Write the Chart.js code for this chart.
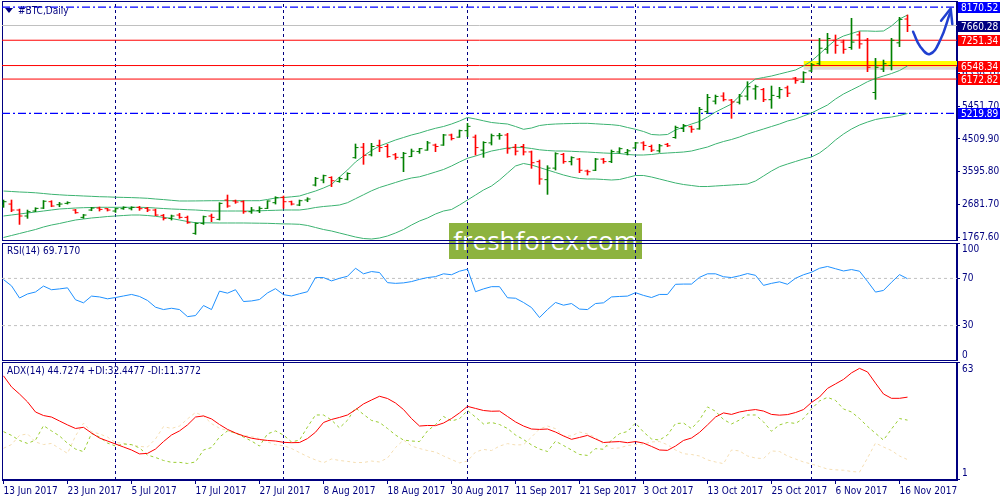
<!DOCTYPE html>
<html>
<head>
<meta charset="utf-8">
<script src="https://cdn.jsdelivr.net/npm/chart.js@4.4.0/dist/chart.umd.min.js"></script>
<style>
  body { margin: 0; background: #fff; width: 1000px; height: 500px; overflow: hidden; position: relative; }
  canvas { position: absolute; left: 0; z-index: 1; }
  .lbl { position: absolute; z-index: 2; color: #000080; font: 10px "DejaVu Sans Condensed", "Liberation Sans", Arial, sans-serif; line-height: 12px; white-space: nowrap; }
  .tri { display: inline-block; width: 0; height: 0; border-left: 4px solid transparent; border-right: 4px solid transparent; border-top: 5px solid #000080; margin-right: 5px; vertical-align: 1px; }
  #wm { position: absolute; z-index: 0; left: 449px; top: 223px; width: 193px; height: 36px; background: #8db33f; color: #fff;
        font: 26px "Open Sans", sans-serif; line-height: 35px; text-align: center; }
</style>
</head>
<body>
<div id="wm">freshforex.com</div>
<canvas id="cMain" width="1000" height="241" style="top:0px"></canvas>
<canvas id="cRsi" width="1000" height="119" style="top:242px"></canvas>
<canvas id="cAdx" width="1000" height="139" style="top:361px"></canvas>
<div class="lbl" style="left:5px;top:5px"><span class="tri"></span>#BTC,Daily</div>
<div class="lbl" style="left:7px;top:245px">RSI(14) 69.7170</div>
<div class="lbl" style="left:7px;top:365px">ADX(14) 44.7274 +DI:32.4477 -DI:11.3772</div>
<script>
// x axis labels, one every 8 daily bars (13 Jun - 17 Nov 2017, weekdays)
const tickDates = ['13 Jun 2017', '23 Jun 2017', '5 Jul 2017', '17 Jul 2017', '27 Jul 2017', '8 Aug 2017', '18 Aug 2017',
  '30 Aug 2017', '11 Sep 2017', '21 Sep 2017', '3 Oct 2017', '13 Oct 2017', '25 Oct 2017', '6 Nov 2017', '16 Nov 2017'];
const monthStarts = [14, 35, 58, 79, 101];

// daily OHLC
const openP = [2650, 2702, 2536, 2370, 2508, 2590, 2767, 2684, 2721, 2536,
  2332, 2536, 2591, 2573, 2508, 2573, 2573, 2610, 2582, 2536,
  2388, 2305, 2397, 2332, 1888, 2165, 2370, 2277, 2814, 2786,
  2767, 2490, 2517, 2582, 2740, 2888, 2767, 2675, 2814, 3230,
  3369, 3440, 3330, 3390, 3990, 4280, 4070, 4330, 4300, 4070,
  3990, 4020, 4160, 4200, 4340, 4340, 4620, 4560, 4740, 4560,
  4200, 4400, 4600, 4620, 4280, 4300, 4150, 3880, 3380, 3700,
  4080, 3880, 3950, 3620, 3640, 3950, 3880, 4150, 4130, 4260,
  4400, 4300, 4180, 4360, 4550, 4800, 4850, 4790, 5270, 5560,
  5700, 5590, 5530, 5700, 5900, 5880, 5600, 5690, 5930, 6200,
  6090, 6400, 6600, 7000, 7250, 7200, 7050, 7400, 7250, 5800,
  6450, 6550, 7180, 7840];
const highP = [2814, 2814, 2563, 2536, 2600, 2800, 2795, 2749, 2767, 2554,
  2415, 2610, 2619, 2582, 2591, 2628, 2628, 2638, 2610, 2563,
  2415, 2397, 2443, 2370, 2184, 2370, 2425, 2740, 2953, 2814,
  2795, 2610, 2628, 2795, 2906, 2925, 2786, 2814, 2878, 3444,
  3508, 3462, 3444, 3573, 4370, 4388, 4388, 4480, 4360, 4110,
  4138, 4230, 4249, 4444, 4370, 4638, 4647, 4758, 4943, 4620,
  4435, 4647, 4666, 4666, 4360, 4360, 4175, 3925, 3768, 4129,
  4110, 4018, 3971, 3647, 3971, 3971, 4203, 4268, 4221, 4416,
  4435, 4342, 4360, 4388, 4869, 4916, 4870, 5388, 5749, 5730,
  5795, 5610, 5749, 6100, 6008, 5915, 5980, 5943, 5980, 6221,
  6378, 6610, 7304, 7443, 7397, 7258, 7860, 7490, 7304, 6748,
  6702, 7304, 7887, 7952];
const lowP = [2610, 2490, 2137, 2305, 2490, 2575, 2628, 2628, 2702, 2443,
  2305, 2517, 2508, 2508, 2471, 2554, 2536, 2526, 2490, 2378,
  2258, 2258, 2305, 2165, 1860, 2137, 2212, 2258, 2610, 2721,
  2443, 2443, 2462, 2575, 2702, 2582, 2675, 2656, 2767, 3203,
  3290, 3185, 3305, 3370, 3971, 3805, 4036, 4157, 3999, 3944,
  3601, 4018, 4110, 4195, 4157, 4330, 4480, 4555, 4573, 4064,
  3999, 4342, 4500, 4110, 4064, 4064, 3694, 3249, 2971, 3647,
  3833, 3786, 3573, 3508, 3629, 3833, 3851, 4110, 4064, 4249,
  4203, 4157, 4138, 4295, 4527, 4712, 4693, 4777, 5221, 5480,
  5563, 5082, 5480, 5590, 5610, 5545, 5360, 5637, 5684, 6054,
  6073, 6378, 6564, 6887, 6887, 6887, 6998, 7026, 6378, 5610,
  6378, 6425, 7073, 7490];
const closeP = [2767, 2536, 2370, 2490, 2582, 2780, 2647, 2702, 2740, 2462,
  2397, 2591, 2554, 2536, 2573, 2610, 2610, 2573, 2536, 2397,
  2305, 2370, 2332, 2184, 2165, 2351, 2332, 2721, 2647, 2758,
  2490, 2536, 2582, 2786, 2878, 2767, 2702, 2795, 2842, 3416,
  3490, 3350, 3410, 3550, 4270, 4055, 4300, 4270, 4020, 4000,
  4110, 4170, 4240, 4400, 4300, 4620, 4520, 4740, 4860, 4270,
  4410, 4600, 4610, 4240, 4170, 4150, 3850, 3398, 3700, 4100,
  3880, 3990, 3640, 3600, 3950, 3880, 4160, 4240, 4180, 4400,
  4330, 4200, 4320, 4320, 4830, 4880, 4780, 5330, 5660, 5690,
  5600, 5540, 5700, 5960, 5960, 5600, 5720, 5880, 5780, 6130,
  6350, 6570, 7030, 7300, 7110, 7000, 7200, 7150, 6500, 6500,
  6600, 7250, 7830, 7660.28];

// Bollinger bands
const bbUpper = [3064, 3051, 3037, 3028, 3015, 2995, 2973, 2959, 2945, 2937,
  2926, 2917, 2906, 2901, 2892, 2887, 2881, 2873, 2862, 2842,
  2826, 2806, 2787, 2787, 2789, 2792, 2795, 2795, 2795, 2795,
  2795, 2795, 2795, 2829, 2870, 2884, 2903, 2926, 2995, 3064,
  3148, 3245, 3453, 3648, 3870, 4036, 4189, 4314, 4397, 4481,
  4550, 4620, 4675, 4745, 4806, 4856, 4925, 5008, 5106, 5064,
  5014, 4967, 4944, 4925, 4856, 4778, 4814, 4883, 4911, 4925,
  4933, 4939, 4944, 4944, 4931, 4917, 4906, 4883, 4828, 4778,
  4717, 4634, 4620, 4634, 4759, 4842, 4925, 4995, 5119, 5258,
  5369, 5481, 5703, 6008, 6175, 6216, 6258, 6314, 6369, 6425,
  6536, 6675, 6869, 7072, 7258, 7369, 7438, 7508, 7508, 7499,
  7508, 7647, 7841, 7952];
const bbMiddle = [2370, 2398, 2426, 2454, 2481, 2509, 2537, 2565, 2578, 2592,
  2601, 2606, 2612, 2612, 2612, 2612, 2612, 2612, 2606, 2592,
  2578, 2565, 2556, 2545, 2537, 2523, 2509, 2509, 2509, 2509,
  2509, 2509, 2515, 2523, 2529, 2537, 2537, 2537, 2565, 2606,
  2634, 2653, 2676, 2740, 2850, 2960, 3070, 3162, 3231, 3301,
  3370, 3426, 3459, 3523, 3592, 3662, 3759, 3870, 3973, 4036,
  4106, 4175, 4217, 4259, 4278, 4272, 4245, 4209, 4189, 4175,
  4175, 4167, 4156, 4147, 4133, 4120, 4111, 4106, 4078, 4064,
  4064, 4078, 4106, 4120, 4133, 4147, 4175, 4231, 4286, 4370,
  4439, 4495, 4564, 4647, 4717, 4786, 4856, 4925, 5008, 5064,
  5147, 5231, 5342, 5453, 5619, 5758, 5869, 5980, 6100, 6189,
  6258, 6327, 6410, 6536];
const bbLower = [1773, 1829, 1884, 1940, 1995, 2065, 2120, 2162, 2212, 2259,
  2287, 2315, 2334, 2356, 2370, 2384, 2398, 2398, 2384, 2362,
  2334, 2301, 2259, 2217, 2184, 2181, 2179, 2176, 2176, 2176,
  2176, 2173, 2170, 2167, 2159, 2151, 2148, 2140, 2107, 2051,
  1995, 1954, 1898, 1843, 1787, 1745, 1731, 1759, 1815, 1898,
  1995, 2120, 2231, 2315, 2426, 2509, 2551, 2676, 2815, 2953,
  3092, 3203, 3370, 3564, 3759, 3828, 3787, 3717, 3648, 3578,
  3509, 3453, 3412, 3398, 3398, 3384, 3370, 3384, 3439, 3495,
  3495, 3453, 3398, 3342, 3287, 3245, 3217, 3189, 3189, 3203,
  3217, 3231, 3245, 3259, 3342, 3481, 3620, 3739, 3814, 3884,
  3953, 4009, 4120, 4286, 4481, 4647, 4786, 4897, 4980, 5050,
  5091, 5119, 5161, 5217];

// RSI(14)
const rsi = [69.0, 63.7, 53.4, 56.8, 58.5, 63.5, 60.4, 61.1, 62.0, 51.9,
  49.3, 55.0, 54.3, 52.7, 53.8, 55.1, 56.4, 54.7, 51.3, 45.6,
  43.6, 44.7, 43.6, 37.6, 38.5, 47.0, 43.6, 59.2, 57.5, 60.4,
  50.4, 50.9, 52.1, 57.7, 61.3, 56.2, 55.1, 57.0, 58.7, 70.7,
  70.7, 67.9, 70.1, 71.8, 78.6, 73.9, 75.8, 75.0, 66.4, 65.8,
  66.2, 67.3, 69.2, 70.7, 71.5, 73.9, 73.1, 76.1, 77.8, 58.7,
  61.1, 63.0, 63.0, 53.6, 53.2, 49.6, 45.3, 36.8, 43.6, 49.6,
  47.3, 48.7, 44.0, 43.6, 48.7, 49.3, 54.3, 54.7, 55.0, 57.9,
  55.6, 53.8, 56.4, 56.4, 65.0, 65.2, 65.2, 70.9, 73.9, 73.9,
  71.4, 70.7, 72.2, 74.1, 72.6, 64.1, 65.8, 67.1, 65.0, 70.1,
  73.1, 75.2, 78.6, 80.1, 78.2, 76.3, 77.5, 76.1, 67.5, 58.4,
  59.8, 66.7, 73.2, 69.717];
const rsiLevels = [70, 30];
const rsiTicks = [0, 30, 70, 100];

// ADX(14), +DI, -DI
const adx = [56.1, 50.2, 46.4, 42.2, 36.8, 34.9, 34.1, 32.0, 29.9, 28.0,
  28.6, 25.6, 22.9, 21.3, 19.7, 18.1, 16.5, 14.4, 14.7, 17.0,
  21.0, 24.5, 26.7, 29.9, 34.1, 34.7, 33.1, 30.1, 27.5, 25.6,
  24.0, 22.8, 22.1, 21.6, 21.3, 20.6, 20.4, 20.5, 22.6, 26.0,
  31.2, 32.8, 33.9, 35.2, 38.0, 41.1, 43.2, 45.2, 44.0, 41.6,
  38.1, 33.3, 29.3, 29.6, 29.5, 30.9, 33.3, 36.3, 39.8, 38.7,
  37.6, 37.2, 37.3, 34.4, 31.5, 29.3, 27.7, 27.5, 27.7, 26.1,
  24.0, 22.2, 23.2, 24.3, 22.4, 20.5, 20.8, 21.0, 20.4, 21.0,
  20.2, 18.4, 16.5, 16.3, 18.6, 21.6, 22.9, 25.9, 29.9, 34.1,
  36.3, 35.5, 36.8, 37.6, 38.1, 37.3, 35.5, 35.1, 35.4, 36.5,
  38.1, 41.9, 44.8, 49.4, 51.8, 54.2, 57.7, 60.1, 58.2, 52.2,
  46.4, 44.1, 44.1, 44.727];
const plusDI = [26.3, 24.3, 21.6, 20.0, 21.8, 29.5, 26.7, 24.0, 20.1, 17.0,
  15.6, 25.3, 23.4, 20.2, 18.6, 19.7, 19.4, 17.6, 13.8, 12.5,
  10.9, 9.9, 9.9, 9.3, 10.1, 16.5, 17.8, 23.4, 26.7, 25.6,
  23.4, 21.3, 18.6, 25.1, 26.7, 24.5, 20.8, 21.8, 28.8, 35.2,
  35.2, 32.5, 28.3, 32.4, 39.0, 35.5, 32.3, 31.2, 28.0, 24.5,
  21.8, 21.3, 21.0, 26.7, 30.1, 34.4, 32.0, 33.2, 37.6, 34.1,
  30.4, 31.2, 30.1, 28.0, 24.5, 22.1, 19.2, 17.0, 15.7, 21.2,
  18.9, 16.5, 14.1, 13.6, 17.2, 16.9, 21.8, 25.2, 26.4, 30.9,
  26.1, 22.4, 21.8, 24.5, 30.6, 30.9, 27.9, 32.5, 39.5, 37.2,
  32.8, 30.4, 32.5, 35.2, 35.2, 31.5, 26.5, 29.9, 31.2, 30.7,
  33.3, 38.4, 42.7, 44.6, 43.0, 38.4, 36.8, 33.3, 29.1, 25.4,
  21.8, 27.7, 33.3, 32.448];
const minusDI = [17.4, 19.4, 24.3, 25.1, 20.8, 19.4, 20.0, 17.3, 14.7, 24.0,
  30.8, 26.3, 25.1, 23.4, 20.5, 20.1, 19.2, 18.4, 18.1, 22.4,
  29.0, 28.0, 29.3, 33.1, 36.5, 34.7, 30.6, 28.1, 26.9, 25.3,
  24.3, 23.6, 22.6, 20.8, 19.3, 18.8, 17.3, 15.1, 13.0, 11.2,
  9.7, 11.7, 10.9, 10.4, 9.8, 9.8, 10.6, 10.1, 12.2, 17.8,
  21.8, 18.6, 17.3, 16.2, 15.4, 13.3, 11.4, 9.6, 10.6, 15.4,
  16.8, 16.2, 18.6, 19.9, 19.2, 19.3, 23.4, 27.7, 29.3, 27.9,
  24.0, 24.0, 26.1, 25.1, 23.2, 19.7, 17.3, 17.6, 18.9, 19.4,
  19.7, 20.8, 21.0, 19.3, 16.5, 14.5, 14.1, 13.3, 11.2, 10.1,
  9.2, 16.5, 16.0, 13.3, 12.2, 11.9, 16.0, 15.7, 13.3, 11.7,
  10.1, 9.0, 7.7, 6.3, 5.9, 5.7, 5.0, 4.7, 12.2, 20.2,
  18.1, 16.2, 13.3, 11.377];
const adxTicks = [1, 63];

// price axis and horizontal levels
const priceTicks = [1767.6, 2681.7, 3595.8, 4509.9, 5424.0, 6338.1, 7252.2];
const priceTickLabels = ['1767.60', '2681.70', '3595.80', '4509.90', '5451.70', '6338.10', '7252.20'];
const redLevels = [7251.34, 6548.34, 6172.82];
const blueLevels = [8170.52, 5219.89];
const bidPrice = 7660.28;
const zoneStart = 100;
const supportZone = [6522, 6675];

// hand drawn forecast arrow (bar offset, price)
const arrowBars = [113.7, 114.6, 115.8, 117.1, 118.3];
const arrowPrices = [7488, 7072, 6869, 7258, 7999];
const arrowHeadBars = [117.2, 118.4, 118.6];
const arrowHeadPrices = [7794, 8130, 7702];

const NAVY = '#000080';
const FONT = '"DejaVu Sans Condensed", "Liberation Sans", Arial, sans-serif';
const xMin = -0.1875, xMax = 119.1875;
Chart.defaults.font.family = FONT;
Chart.defaults.font.size = 10;

const pts = arr => arr.map((v, i) => ({ x: i, y: v }));
const hline = (v, color, dash, width) => ({ type: 'line', data: [{ x: xMin, y: v }, { x: xMax, y: v }],
  borderColor: color, borderWidth: width || 1, borderDash: dash || [], pointRadius: 0 });
const vlines = (lo, hi) => monthStarts.map(m => ({ type: 'line', data: [{ x: m, y: lo }, { x: m, y: hi }],
  borderColor: NAVY, borderWidth: 1, borderDash: [3, 3], pointRadius: 0 }));
const series = (arr, color, dash) => ({ type: 'line', data: pts(arr), borderColor: color, borderWidth: 1,
  borderDash: dash || [], pointRadius: 0, tension: 0 });

// no extra room for labels that stick out past the panel
const noPad = s => { s.paddingTop = 0; s.paddingBottom = 0; s.paddingLeft = 0; s.paddingRight = 0; };

const frame = {
  id: 'frame',
  beforeDatasetsDraw(chart) {
    const a = chart.chartArea, c = chart.ctx;
    c.save();
    c.strokeStyle = NAVY; c.lineWidth = 1;
    c.strokeRect(a.left + 0.5, a.top + 0.5, a.right - a.left - 1, a.bottom - a.top - 1);
    c.restore();
  }
};

function yAxis(min, max, ticks, label) {
  return {
    position: 'right', min: min, max: max,
    afterFit: s => { s.width = 43; noPad(s); },
    afterBuildTicks: s => { s.ticks = ticks.map(v => ({ value: v })); },
    border: { display: true, color: NAVY },
    grid: { drawOnChartArea: false, tickLength: 3, color: NAVY },
    ticks: { color: NAVY, padding: 2, autoSkip: false, callback: label }
  };
}

function opts(yOpt, xOpt, pad) {
  return {
    responsive: false, animation: false, devicePixelRatio: 1, events: [],
    layout: { padding: pad, autoPadding: false },
    plugins: { legend: { display: false }, tooltip: { enabled: false } },
    scales: { x: xOpt, y: yOpt }
  };
}
const hiddenX = { type: 'linear', display: false, min: xMin, max: xMax, offset: false };

// ---- main price panel
const yMinP = 1676, yMaxP = 8341;
const isUp = closeP.map((c, i) => c >= openP[i]);
const barCol = isUp.map(u => u ? '#008000' : '#ff0000');

const levelTags = {
  id: 'levelTags',
  afterDraw(chart) {
    const y = chart.scales.y, c = chart.ctx, x0 = chart.chartArea.right + 1;
    const tags = [].concat(
      redLevels.map(v => ({ v: v, bg: '#ff0000' })),
      blueLevels.map(v => ({ v: v, bg: '#0000ff' })),
      [{ v: bidPrice, bg: '#000080' }]);
    c.save();
    c.font = '10px ' + FONT; c.textBaseline = 'middle';
    tags.forEach(t => {
      const py = Math.round(y.getPixelForValue(t.v));
      c.fillStyle = t.bg; c.fillRect(x0, py - 5, 1000 - x0, 11);
      c.fillStyle = '#fff'; c.fillText(t.v.toFixed(2), x0 + 3, py + 1);
    });
    c.restore();
  }
};

new Chart(document.getElementById('cMain'), {
  type: 'line',
  data: {
    datasets: [
      { type: 'line', data: arrowHeadBars.map((b, i) => ({ x: b, y: arrowHeadPrices[i] })), borderColor: '#2040d0',
        borderWidth: 2.5, pointRadius: 0, borderCapStyle: 'round', borderJoinStyle: 'round' },
      { type: 'line', data: arrowBars.map((b, i) => ({ x: b, y: arrowPrices[i] })), borderColor: '#2040d0',
        borderWidth: 2.5, pointRadius: 0, tension: 0.45, borderCapStyle: 'round' },
      { type: 'line', showLine: false, data: openP.map((v, i) => ({ x: i - 1.5 / 8, y: v })), pointStyle: 'line',
        pointRadius: 1.5, pointBorderWidth: 1, pointBorderColor: barCol, pointBackgroundColor: barCol },
      { type: 'line', showLine: false, data: closeP.map((v, i) => ({ x: i + 1.5 / 8, y: v })), pointStyle: 'line',
        pointRadius: 1.5, pointBorderWidth: 1, pointBorderColor: barCol, pointBackgroundColor: barCol },
      { type: 'bar', data: lowP.map((l, i) => ({ x: i, y: [l, highP[i]] })), backgroundColor: barCol,
        barThickness: 1, grouped: false, borderWidth: 0 },
      series(bbUpper, '#3cb371'), series(bbMiddle, '#3cb371'), series(bbLower, '#3cb371'),
      ...redLevels.map(v => hline(v, '#ff0000')),
      ...blueLevels.map(v => hline(v, '#0000ff', [8, 3, 2, 3], 1.3)),
      hline(bidPrice, '#c0c0c0'),
      ...vlines(yMinP, yMaxP),
      { type: 'line', data: [{ x: zoneStart, y: supportZone[1] }, { x: xMax, y: supportZone[1] }],
        borderWidth: 0, pointRadius: 0, fill: { value: supportZone[0] }, backgroundColor: '#ffff00' },
      { type: 'line', data: [{ x: zoneStart, y: supportZone[0] }, { x: xMax, y: supportZone[0] }],
        borderWidth: 0, pointRadius: 0, fill: { value: supportZone[0] - 90 }, backgroundColor: 'rgba(120,70,70,0.22)' }
    ]
  },
  options: opts(yAxis(yMinP, yMaxP, priceTicks, v => priceTickLabels[priceTicks.indexOf(v)]),
    hiddenX, { left: 2, right: 0, top: 1, bottom: 0 }),
  plugins: [frame, levelTags]
});

// ---- RSI panel
new Chart(document.getElementById('cRsi'), {
  type: 'line',
  data: {
    datasets: [
      series(rsi, '#1e90ff'),
      ...rsiLevels.map(v => hline(v, '#c0c0c0', [3, 3])),
      ...vlines(0, 100)
    ]
  },
  options: opts(yAxis(0, 100, rsiTicks, v => v === 100 ? ['', '100'] : v === 0 ? ['0', ''] : String(v)),
    hiddenX, { left: 2, right: 0, top: 1, bottom: 0 }),
  plugins: [frame]
});

// ---- ADX panel
new Chart(document.getElementById('cAdx'), {
  type: 'line',
  data: {
    datasets: [
      series(adx, '#ff0000'),
      series(plusDI, '#9acd32', [3, 3]),
      series(minusDI, '#f5deb3', [3, 3]),
      ...vlines(0.47, 63.5)
    ]
  },
  options: opts(yAxis(0.47, 63.5, adxTicks, v => v === 63 ? ['', '63'] : ['1', '']),
    {
      type: 'linear', min: xMin, max: xMax, offset: false, position: 'bottom',
      afterFit: s => { s.height = 20; noPad(s); },
      afterBuildTicks: s => { s.ticks = tickDates.map((_, k) => ({ value: k * 8 })); },
      border: { display: true, color: NAVY },
      grid: { drawOnChartArea: false, tickLength: 4, color: NAVY },
      ticks: { color: NAVY, align: 'start', maxRotation: 0, autoSkip: false, padding: 1,
        callback: v => tickDates[v / 8] }
    },
    { left: 2, right: 0, top: 1, bottom: 0 }),
  plugins: [frame]
});
</script>
</body>
</html>
